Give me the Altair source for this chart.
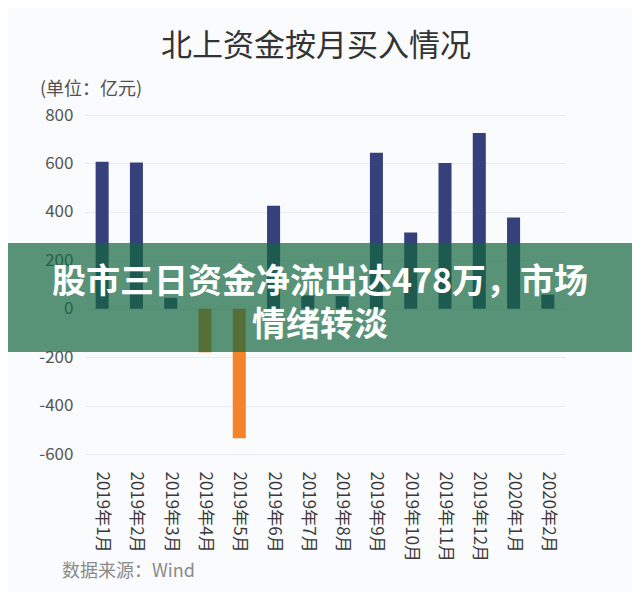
import altair as alt
import pandas as pd

months = ["2019年1月", "2019年2月", "2019年3月", "2019年4月", "2019年5月", "2019年6月",
          "2019年7月", "2019年8月", "2019年9月", "2019年10月", "2019年11月", "2019年12月",
          "2020年1月", "2020年2月"]
values = [607, 604, 45, -180, -535, 425, 55, 52, 644, 315, 602, 726, 377, 58]

y_ticks = [-600, -400, -200, 0, 200, 400, 600, 800]

title_text = "北上资金按月买入情况"
unit_text = "(单位：亿元)"
source_text = "数据来源：Wind"
banner_line1 = "股市三日资金净流出达478万，市场"
banner_line2 = "情绪转淡"

FONT = "Noto Sans CJK SC"
BLUE = "#36417c"
ORANGE = "#f5832a"

df = pd.DataFrame({"month": months, "value": values})

bars = alt.Chart(df).mark_bar().encode(
    x=alt.X("month:N", sort=months, title=None,
            scale=alt.Scale(paddingInner=0.62, paddingOuter=0.31),
            axis=alt.Axis(labelAngle=90, labelFontSize=17, labelColor="#3a3a3a",
                          labelFont=FONT, labelPadding=17, domain=False, ticks=False)),
    y=alt.Y("value:Q", title=None,
            scale=alt.Scale(domain=[-600, 800], nice=False, zero=False),
            axis=alt.Axis(values=y_ticks, labelFontSize=17, labelColor="#555555",
                          labelFont=FONT, labelPadding=12, domain=False, ticks=False,
                          labelExpr="'' + datum.value",
                          grid=True, gridColor="#e8ebf0", gridWidth=1)),
    color=alt.condition(alt.datum.value > 0, alt.value(BLUE), alt.value(ORANGE)),
)

def text_layer(txt, x, y, size, color, align="left", weight="normal"):
    return alt.Chart(pd.DataFrame({"t": [txt]})).mark_text(
        align=align, baseline="middle", fontSize=size, color=color,
        font=FONT, fontWeight=weight
    ).encode(x=alt.value(x), y=alt.value(y), text="t:N")

title = text_layer(title_text, 231, -68, 31, "#333333", align="center")
unit = text_layer(unit_text, -45, -25, 18, "#505050")
source = text_layer(source_text, -23, 457, 18, "#8a8a8a")

banner = alt.Chart(pd.DataFrame({"t": [1]})).mark_rect(
    color="#13663f", opacity=0.7
).encode(x=alt.value(-85), x2=alt.value(560), y=alt.value(128), y2=alt.value(237))

b1 = text_layer(banner_line1, 235, 168, 34, "#ffffff", align="center", weight="bold")
b2 = text_layer(banner_line2, 235, 211, 34, "#ffffff", align="center", weight="bold")

chart = alt.layer(bars, title, unit, source, banner, b1, b2).properties(
    width=480, height=339,
    autosize=alt.AutoSizeParams(type="none"),
    padding={"left": 77, "top": 107, "right": 67, "bottom": 138},
    background="#fafbfd",
).configure_view(stroke=None)

chart.save("out.html", embed_options={"renderer": "svg", "actions": False})
